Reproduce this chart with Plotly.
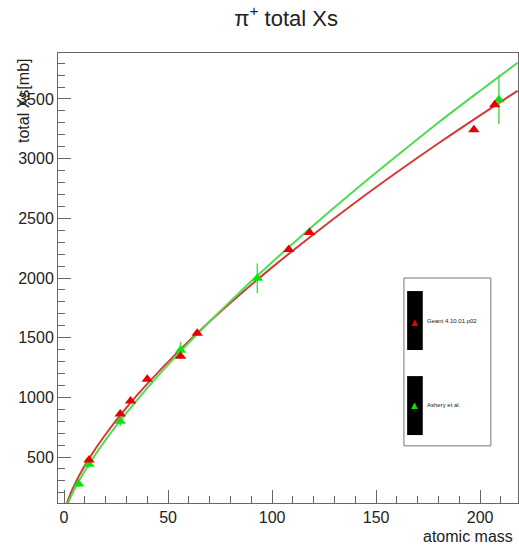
import plotly.graph_objects as go

# Geant 4.10.01.p02 points
geant_A = [12, 27, 32, 40, 56, 64, 108, 118, 197, 207]
geant_xs = [475, 860, 970, 1152, 1344, 1537, 2239, 2381, 3242, 3451]

# Ashery et al. points
ashery_A = [7, 12, 27, 56, 92.9, 209]
ashery_xs = [275, 440, 800, 1395, 1997, 3493]
ashery_err = [25, 30, 40, 70, 125, 205]

# Fit curves
curve_A = [1, 2, 4, 7, 12, 20, 30, 40, 55, 70, 85, 100, 120, 140, 160, 180, 200, 218]
geant_fit = [88, 142, 229, 336, 487, 691, 914, 1113, 1385, 1635, 1868, 2089, 2367, 2633, 2886, 3129, 3363, 3569]
ashery_fit = [69, 116, 194, 295, 440, 644, 870, 1078, 1366, 1635, 1890, 2132, 2442, 2739, 3024, 3303, 3569, 3803]

x_ticks = [0, 50, 100, 150, 200]
y_ticks = [500, 1000, 1500, 2000, 2500, 3000, 3500]

RED_LINE = "#d23a3a"
GREEN_LINE = "#4fdc4f"
RED_MK = "#e80000"
GREEN_MK = "#10e010"
FONT = "Liberation Sans, Arial, sans-serif"

fig = go.Figure()
fig.add_trace(go.Scatter(x=curve_A, y=geant_fit, mode="lines", line=dict(color=RED_LINE, width=2, shape="spline"), showlegend=False))
fig.add_trace(go.Scatter(x=curve_A, y=ashery_fit, mode="lines", line=dict(color=GREEN_LINE, width=2, shape="spline"), showlegend=False))
fig.add_trace(go.Scatter(x=ashery_A, y=ashery_xs, mode="markers",
                         marker=dict(symbol="triangle-up", size=10, color=GREEN_MK),
                         error_y=dict(type="data", array=ashery_err, color=GREEN_LINE, thickness=1.5, width=0),
                         showlegend=False))
fig.add_trace(go.Scatter(x=geant_A, y=geant_xs, mode="markers",
                         marker=dict(symbol="triangle-up", size=10, color=RED_MK), showlegend=False))

axis_common = dict(showline=True, linecolor="#666", linewidth=1, mirror=True, ticks="inside",
                   ticklen=13, tickcolor="#666", showgrid=False, zeroline=False,
                   tickfont=dict(family=FONT, size=16, color="#222"))
fig.update_xaxes(range=[-2.9, 218.2], tickvals=x_ticks,
                 minor=dict(dtick=10, ticks="inside", ticklen=7, tickcolor="#666", showgrid=False),
                 **axis_common)
fig.update_yaxes(range=[115, 3885], tickvals=y_ticks,
                 minor=dict(dtick=100, ticks="inside", ticklen=7, tickcolor="#666", showgrid=False),
                 **axis_common)

shapes = [
    dict(type="rect", xref="paper", yref="paper", x0=0.752, x1=0.941, y0=0.127, y1=0.5,
         line=dict(color="#777", width=1), fillcolor="white", layer="above"),
    dict(type="rect", xref="paper", yref="paper", x0=0.759, x1=0.793, y0=0.340, y1=0.471,
         line=dict(width=0), fillcolor="black", layer="above"),
    dict(type="rect", xref="paper", yref="paper", x0=0.759, x1=0.793, y0=0.151, y1=0.282,
         line=dict(width=0), fillcolor="black", layer="above"),
]
annotations = [
    dict(text="▲", xref="paper", yref="paper", x=0.776, y=0.404, showarrow=False,
         font=dict(size=11, color=RED_MK), xanchor="center", yanchor="middle"),
    dict(text="▲", xref="paper", yref="paper", x=0.776, y=0.218, showarrow=False,
         font=dict(size=11, color=GREEN_MK), xanchor="center", yanchor="middle"),
    dict(text="Geant 4.10.01.p02", xref="paper", yref="paper", x=0.798, y=0.404, showarrow=False,
         font=dict(size=6, color="#222", family=FONT), xanchor="left", yanchor="middle"),
    dict(text="Ashery et al.", xref="paper", yref="paper", x=0.798, y=0.218, showarrow=False,
         font=dict(size=6, color="#222", family=FONT), xanchor="left", yanchor="middle"),
    dict(text="total Xs[mb]", xref="paper", yref="paper", x=-0.075, y=0.99, textangle=-90,
         showarrow=False, font=dict(size=16, color="#222", family=FONT), xanchor="center", yanchor="top"),
    dict(text="atomic mass", xref="paper", yref="paper", x=0.993, y=-0.075, showarrow=False,
         font=dict(size=16, color="#222", family=FONT), xanchor="right", yanchor="middle"),
]

fig.update_layout(
    width=519, height=552,
    margin=dict(l=58, r=1, t=53, b=49),
    paper_bgcolor="white", plot_bgcolor="white",
    hovermode=False,
    title=dict(text="π<sup>+</sup> total Xs", x=0.496, xref="paper", xanchor="center",
               y=1 - 18 / 552, yanchor="middle",
               font=dict(family=FONT, size=22, color="#222")),
    shapes=shapes, annotations=annotations, showlegend=False,
)
fig.write_html("out.html", config={"displayModeBar": False},
               post_script="document.body.style.margin='0';document.body.style.overflow='hidden';")
